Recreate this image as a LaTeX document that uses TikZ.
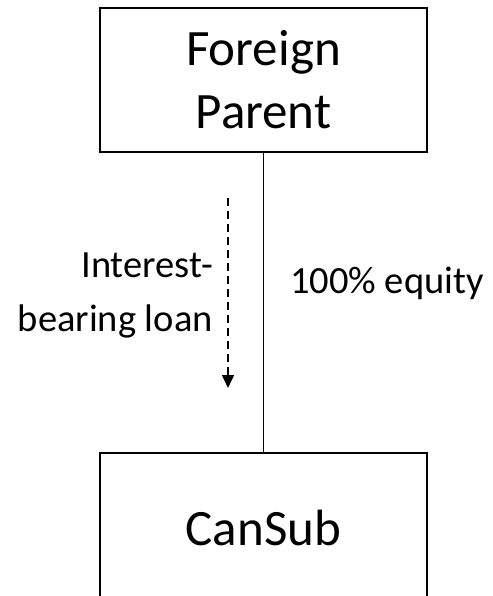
\documentclass[tikz,border=0pt]{standalone}
\usepackage{fontspec}
\setmainfont{Carlito}
\usetikzlibrary{arrows.meta}
\begin{document}
\begin{tikzpicture}[x=1pt,y=-1pt,
  entity/.style={draw=black,line width=2pt,minimum width=327pt,inner sep=0pt,
    align=center,font=\fontsize{51}{63}\selectfont},
  link/.style={draw=black,line width=1pt},
  flow/.style={draw=black,line width=1.5pt,dash pattern=on 8pt off 5pt,
    -{Triangle[width=12pt,length=13pt]}},
  tag/.style={inner sep=0pt,font=\fontsize{38.5}{54}\selectfont}]
  \clip (0,0) rectangle (492,596);
  \node[entity,minimum height=144pt] (parent) at (263.5,80) {Foreign\\Parent};
  \node[entity,minimum height=150pt] (sub) at (263.5,528) {CanSub};
  \draw[link] (parent.south) -- (sub.north);
  \coordinate (loanA) at (228,198);
  \coordinate (loanB) at (228,388);
  \draw[flow] (loanA) -- (loanB);
  \node[tag,anchor=east,align=right] (loan) at (213,295) {Interest-\\bearing loan};
  \node[tag,anchor=west] (equity) at (290,283) {100\% equity};
\end{tikzpicture}
\end{document}
